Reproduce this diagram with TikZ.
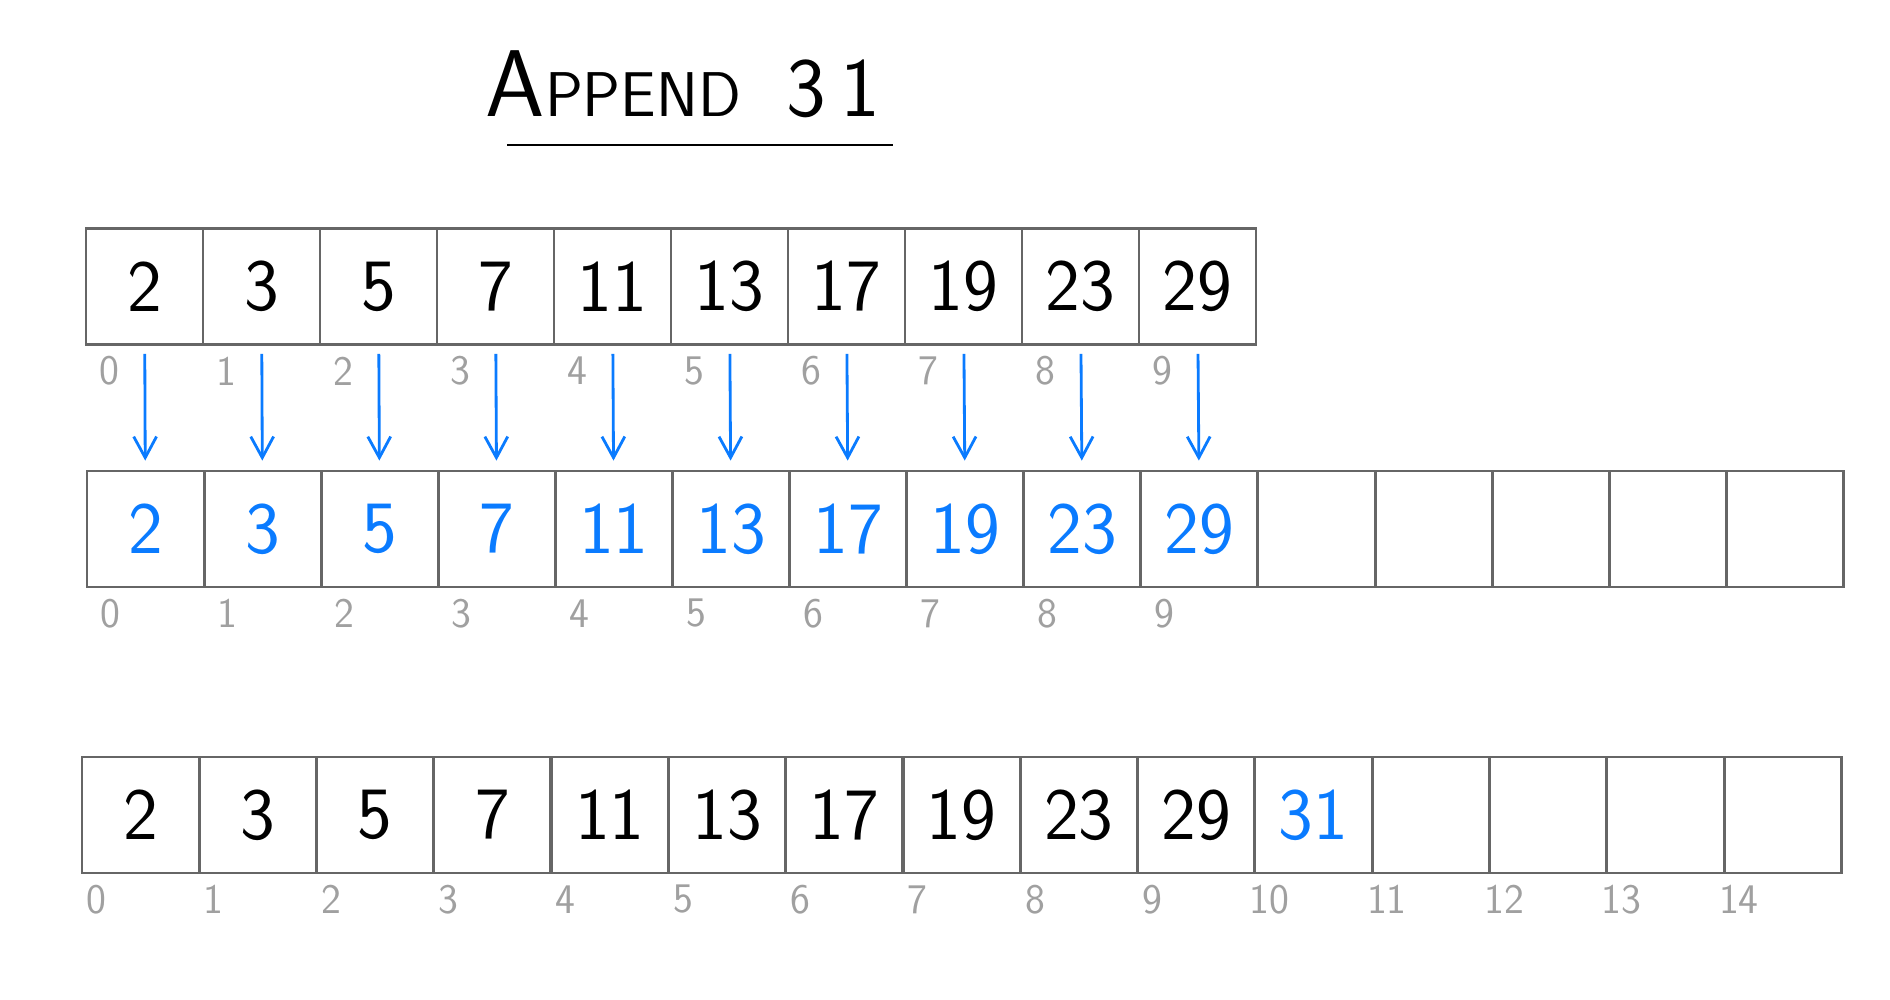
\documentclass[tikz,border=0pt]{standalone}
\usepackage{fontspec}
\usetikzlibrary{positioning,arrows.meta}
\definecolor{cellgray}{HTML}{666666}
\definecolor{idxgray}{HTML}{A0A0A0}
\definecolor{moveblue}{HTML}{0A7BFF}

\begin{document}
\begin{tikzpicture}[x=0.02cm, y=-0.02cm, font=\sffamily,
    cell/.style = {draw=cellgray, line width=1.6pt, minimum width=2.34cm, minimum height=2.32cm, inner sep=0pt, font=\sffamily\fontsize{42}{42}\selectfont},
    idx/.style = {text=idxgray, inner sep=0pt, font=\sffamily\fontsize{24}{24}\selectfont},
    move/.style = {draw=moveblue, line width=1.6pt, shorten <=0.16cm, shorten >=0.18cm, -{Straight Barb[length=12pt,width=13pt]}}]
    \useasboundingbox (0,0) rectangle (1890,1000);
    % title
    \node (title) at (683,84) {{\fontsize{54}{54}\selectfont A}{\fontsize{36}{36}\selectfont PPEND}\hspace{26pt}{\fontsize{48}{48}\selectfont 3\,1}};
    \coordinate (ul1) at (507,145);
    \coordinate (ul2) at (893,145);
    \draw[line width=1.7pt] (ul1) -- (ul2);
    % old array
    \foreach \v [count=\i from 0] in {2,3,5,7,11,13,17,19,23,29} {
      \node[cell] (a\i) at (144.5+117*\i,286.5) {\v};
      \node[idx] (ia\i) at ([xshift=0.5cm,yshift=-0.5cm]a\i.south west) {\i};
    }
    % new array
    \foreach \v [count=\i from 0] in {2,3,5,7,11,13,17,19,23,29,{},{},{},{},{}} {
      \node[cell, text=moveblue] (b\i) at (145.5+117.1*\i,529) {\v};
    }
    \foreach \i in {0,...,9} {
      \node[idx] (ib\i) at ([xshift=0.5cm,yshift=-0.5cm]b\i.south west) {\i};
      \draw[move] (a\i) -- (b\i);
    }
    % after append
    \foreach \v [count=\i from 0] in {2,3,5,7,11,13,17,19,23,29,{\textcolor{moveblue}{31}},{},{},{},{}} {
      \node[cell] (c\i) at (140.5+117.3*\i,815) {\v};
      \node[idx] (ic\i) at ([xshift=0.32cm,yshift=-0.5cm]c\i.south west) {\i};
    }
\end{tikzpicture}
\end{document}
